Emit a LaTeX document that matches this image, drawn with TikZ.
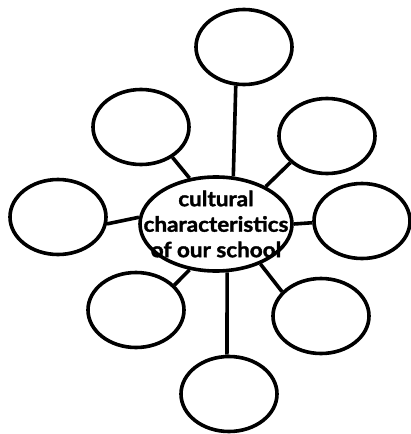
\documentclass[tikz,border=0pt]{standalone}
\usepackage{fontspec}
\newfontfamily\hubfont[BoldFeatures={FakeBold=1.6,FakeStretch=1.07}]{Lato}
\usetikzlibrary{shapes.geometric}

\begin{document}
\begin{tikzpicture}[x=1pt, y=-1pt,
      hub/.style={
        ellipse, draw=black, line width=3.6pt,
        minimum width=152pt, minimum height=94pt, inner sep=0pt
      },
      hubtext/.style={
        font=\hubfont\bfseries\fontsize{21}{25.5}\selectfont,
        align=center, inner sep=0pt
      },
      blank/.style={
        ellipse, draw=black, line width=3.6pt,
        minimum width=96pt, minimum height=75pt, inner sep=0pt
      },
      spoke/.style={line width=3.6pt, color=black}
    ]
      \useasboundingbox (0,0) rectangle (411,434);
      % --- Centre: the topic ellipse ---
      \node[hub, label={[hubtext]center:{cultural\\characteristics\\of our school}}]
        (hub) at (216,224) {};
      % --- Ring of empty ellipses round the centre ---
      \node[blank] (top)    at (244,47)  {};
      \node[blank] (uleft)  at (141,127) {};
      \node[blank] (uright) at (327,136) {};
      \node[blank] (left)   at (58,217)  {};
      \node[blank] (right)  at (362,221) {};
      \node[blank] (lleft)  at (136,310) {};
      \node[blank] (lright) at (321,316) {};
      \node[blank] (bottom) at (229,394) {};
      % --- Spokes: each empty ellipse joined to the centre ---
      \draw[spoke] (top.-102)   -- (hub.70);
      \draw[spoke] (uleft.-44)  -- (hub.120);
      \draw[spoke] (uright.216) -- (hub.37);
      \draw[spoke] (left.-8)    -- (hub.175);
      \draw[spoke] (right.182)  -- (hub.0);
      \draw[spoke] (lleft.33)   -- (hub.240);
      \draw[spoke] (lright.148) -- (hub.-42);
      \draw[spoke] (bottom.93)  -- (hub.-77);
    \end{tikzpicture}
\end{document}
